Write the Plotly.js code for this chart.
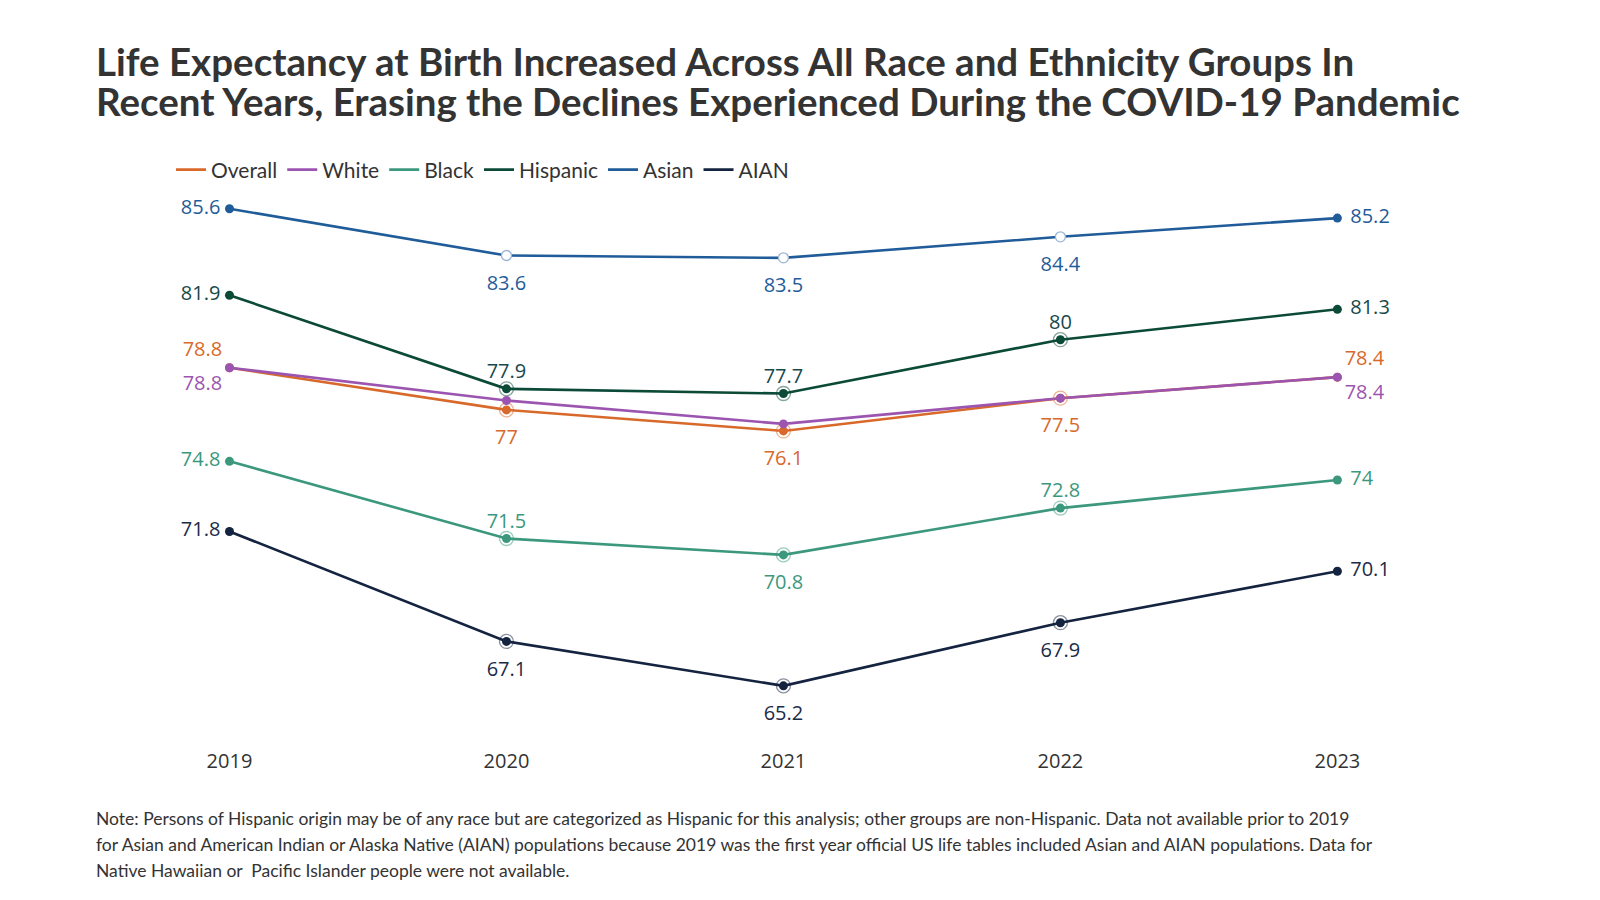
<!DOCTYPE html>
<html>
<head>
<meta charset="utf-8">
<script src="https://cdn.plot.ly/plotly-3.0.1.min.js"></script>
<style>
html,body{margin:0;padding:0;background:#fff;}
#chart{width:1600px;height:900px;}
</style>
</head>
<body>
<div id="chart"></div>
<script>
// ---- data ----
const years = [2019, 2020, 2021, 2022, 2023];
const overall  = [78.8, 77.0, 76.1, 77.5, 78.4];
const white    = [78.8, 77.4, 76.4, 77.5, 78.4];
const black    = [74.8, 71.5, 70.8, 72.8, 74.0];
const hispanic = [81.9, 77.9, 77.7, 80.0, 81.3];
const asian    = [85.6, 83.6, 83.5, 84.4, 85.2];
const aian     = [71.8, 67.1, 65.2, 67.9, 70.1];
const seriesNames = ['Overall', 'White', 'Black', 'Hispanic', 'Asian', 'AIAN'];
const tickLabels = ['2019', '2020', '2021', '2022', '2023'];

// ---- styles ----
const colors = {
  Overall: '#D8692A', White: '#9B55B0', Black: '#3C987D',
  Hispanic: '#0C4A38', Asian: '#1F5C99', AIAN: '#14233F'
};
const labelColors = {
  Overall: '#D8692A', White: '#9B55B0', Black: '#3C987D',
  Hispanic: '#17484A', Asian: '#1F5C99', AIAN: '#1A2B48'
};
const labelFont = 'Open Sans, DejaVu Sans, sans-serif';
const uiFont = 'Lato, Liberation Sans Narrow, Roboto, sans-serif';

const seriesData = {Overall: overall, White: white, Black: black, Hispanic: hispanic, Asian: asian, AIAN: aian};
const textPos = {
  Overall:  ['top left', 'bottom center', 'bottom center', 'bottom center', 'top right'],
  White:    ['bottom left', 'bottom center', 'bottom center', 'bottom center', 'bottom right'],
  Black:    ['middle left', 'top center', 'bottom center', 'top center', 'middle right'],
  Hispanic: ['middle left', 'top center', 'top center', 'top center', 'middle right'],
  Asian:    ['middle left', 'bottom center', 'bottom center', 'bottom center', 'middle right'],
  AIAN:     ['middle left', 'bottom center', 'bottom center', 'bottom center', 'middle right']
};
const showLabel = {
  White: [true, false, false, false, true]
};
const ringed = {Overall: true, White: false, Black: true, Hispanic: true, Asian: false, AIAN: true};
const hollowMiddle = {Asian: true};

function padSize(pos) {
  if (pos === 'middle left') return 13;
  if (pos === 'middle right') return 19;
  if (pos === 'top center') return 8;
  if (pos === 'bottom center') return 29;
  return 10;
}
function fmt(v){ return String(Math.round(v*10)/10); }

const lineTraces = [];
const markerTraces = [];
const ringTraces = [];
const hollowTraces = [];
const labelTraces = [];
seriesNames.forEach(name => {
  const vals = seriesData[name];
  const c = colors[name];
  lineTraces.push({
    type: 'scatter', mode: 'lines', name: name,
    x: years, y: vals,
    line: {color: c, width: 2.6},
    hoverinfo: 'x+y+name'
  });
  markerTraces.push({
    type: 'scatter', mode: 'markers', showlegend: false, hoverinfo: 'skip',
    x: years, y: vals,
    marker: {color: c, size: 9, line: {width: 0}}
  });
  if (hollowMiddle[name]) {
    hollowTraces.push({
      type: 'scatter', mode: 'markers', showlegend: false, hoverinfo: 'skip',
      x: years.slice(1, 4), y: vals.slice(1, 4),
      marker: {color: '#ffffff', size: 10, line: {color: '#9ab6d4', width: 1.3}}
    });
  }
  if (ringed[name]) {
    ringTraces.push({
      type: 'scatter', mode: 'markers', showlegend: false, hoverinfo: 'skip',
      x: years.slice(1, 4), y: vals.slice(1, 4),
      marker: {symbol: 'circle-open', size: 14, color: c, opacity: 0.5, line: {width: 1.3}}
    });
  }
  const show = showLabel[name] || [true, true, true, true, true];
  labelTraces.push({
    type: 'scatter', mode: 'markers+text', showlegend: false, hoverinfo: 'skip',
    x: years, y: vals,
    text: vals.map((v, i) => show[i] ? fmt(v) : ''),
    textposition: textPos[name],
    textfont: {family: labelFont, size: 20, color: labelColors[name]},
    marker: {size: textPos[name].map(padSize), opacity: 0, color: c}
  });
});

const data = [...lineTraces, ...ringTraces, ...markerTraces, ...hollowTraces, ...labelTraces];

const plotTop = 190, plotH = 530, plotL = 150, plotW = 1240;
function py(px) { return 1 - (px - plotTop) / plotH; }
function pxX(px) { return (px - plotL) / plotW; }

const titleLines = [
  'Life Expectancy at Birth Increased Across All Race and Ethnicity Groups In',
  'Recent Years, Erasing the Declines Experienced During the COVID-19 Pandemic'
];
const noteLines = [
  'Note: Persons of Hispanic origin may be of any race but are categorized as Hispanic for this analysis; other groups are non-Hispanic. Data not available prior to 2019',
  'for Asian and American Indian or Alaska Native (AIAN) populations because 2019 was the first year official US life tables included Asian and AIAN populations. Data for',
  'Native Hawaiian or  Pacific Islander people were not available.'
];

const annotations = [];
titleLines.forEach((t, i) => annotations.push({
  text: '<b>' + t + '</b>', xref: 'paper', yref: 'paper', showarrow: false,
  x: pxX(94), xanchor: 'left', y: py(60 + i * 40), yanchor: 'middle',
  font: {family: 'Lato, Open Sans, sans-serif', size: 38.5, color: '#333333'}
}));
noteLines.forEach((t, i) => annotations.push({
  text: t, xref: 'paper', yref: 'paper', showarrow: false,
  x: pxX(94), xanchor: 'left', y: py(819 + i * 26), yanchor: 'middle',
  font: {family: uiFont, size: 17.5, color: '#333333'}
}));

const layout = {
  width: 1600, height: 900,
  paper_bgcolor: '#fff', plot_bgcolor: '#fff',
  margin: {l: plotL, r: 1600 - plotL - plotW, t: plotTop, b: 900 - plotTop - plotH},
  font: {family: uiFont, color: '#333'},
  xaxis: {
    range: [2018.713, 2023.19],
    tickvals: years, ticktext: tickLabels,
    showgrid: false, zeroline: false, showline: false, ticks: '',
    tickfont: {family: labelFont, size: 20, color: '#333'},
    ticklabelstandoff: 27
  },
  yaxis: {
    range: [63.74, 86.38],
    showgrid: false, zeroline: false, showline: false, showticklabels: false, ticks: ''
  },
  legend: {
    orientation: 'h', x: 171/1600, xref: 'container', xanchor: 'left',
    y: 1 - 170/900, yref: 'container', yanchor: 'middle',
    font: {family: uiFont, size: 21, color: '#333'},
    itemwidth: 30, tracegroupgap: 0, bgcolor: 'rgba(0,0,0,0)'
  },
  showlegend: true,
  annotations: annotations
};

Plotly.newPlot('chart', data, layout, {displayModeBar: false, responsive: false});
</script>
</body>
</html>
